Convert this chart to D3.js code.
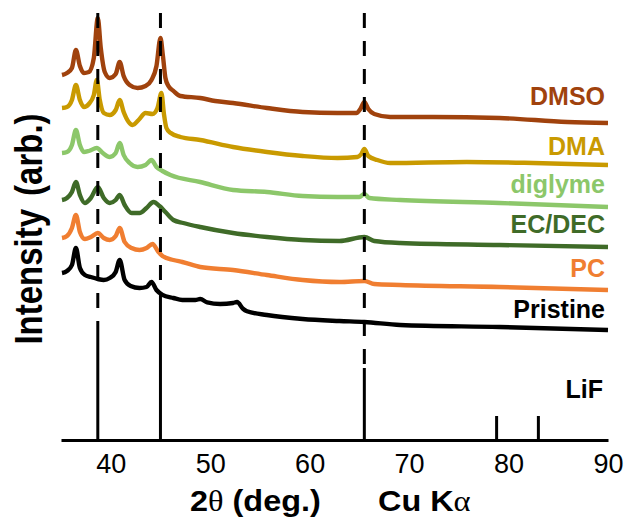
<!DOCTYPE html>
<html>
<head>
<meta charset="utf-8">
<script src="https://cdn.jsdelivr.net/npm/d3@7"></script>
<style>
  html, body { margin: 0; padding: 0; background: #fff; }
  svg { display: block; }
</style>
</head>
<body>
<svg id="chart" width="626" height="522"></svg>
<script>
// ---------------- DATA ----------------
const seriesNames = ["DMSO", "DMA", "diglyme", "EC/DEC", "PC", "Pristine"];
const seriesColors = ["#A0420D", "#C99A00", "#8CC76A", "#3F6B28", "#F07E31", "#000000"];

const dmsoTheta = [35.1,35.6,36.1,36.5,36.9,37.3,37.8,38.3,38.7,39.0,39.4,39.9,40.5,40.9,41.3,41.9,42.7,43.5,44.1,44.6,45.0,45.25,45.5,45.8,46.3,47.0,49.0,50.5,52.3,55.7,59.3,62.8,64.7,65.1,65.5,65.9,66.5,68.1,72.4,79.1,85.9,90.0];
const dmsoValues = [91.25,91.75,93,97.5,93.5,91.75,92,95.5,105.5,98,92,90.5,91.5,94.5,91,88.75,88,88.5,90,93.5,100.5,96,90.5,88.5,87.3,86,85.5,84.75,84.25,83,82,81.75,81.75,82.75,84.5,82.75,81.5,80.75,80.75,80.5,79.5,79.25];

const dmaTheta = [35.1,35.6,36.1,36.5,36.9,37.3,37.8,38.3,38.6,38.9,39.3,39.9,40.5,40.9,41.3,41.8,42.2,42.8,43.5,44.2,44.7,45.1,45.35,45.6,46.0,47.0,49.0,52.3,55.7,59.3,62.8,64.8,65.2,65.5,65.9,66.8,68.1,75.8,82.5,90.0];
const dmaValues = [83,83.25,85,88.75,85,83.25,84,86.25,90,85,81.75,81.25,82.5,85,82,79.5,78.75,80,81.75,81.5,83,86.75,81.5,78,76.8,75.75,75,73.25,72,71,70.5,70.75,71.5,72.75,71,70,69.25,69.5,69.25,68.75];

const diglymeTheta = [35.1,35.6,36.1,36.5,36.9,37.3,37.8,38.6,39.2,39.9,40.5,40.9,41.3,41.9,42.7,43.5,44.1,44.6,45.2,46.0,49.0,52.3,55.7,59.3,62.8,65.0,65.5,66.0,69.1,79.1,90.0];
const diglymeValues = [71.75,72,73.75,77.5,73.75,72,72.25,73,71.75,70.75,71.75,74.25,71.25,69.25,68.25,68.75,70,68.25,67.25,66.25,64.5,62.5,62,61,60.75,60.75,61.5,60.5,60,59.25,58.25];

const ecdecTheta = [35.1,35.6,36.1,36.5,36.9,37.4,38.0,38.7,39.3,39.9,40.5,40.9,41.4,42.1,42.9,43.6,44.3,44.9,45.5,46.3,47.3,49.0,52.3,55.7,59.3,63.0,65.5,66.5,69.1,79.1,90.0];
const ecdecValues = [60,60.5,62,64.5,61.25,59.25,60.5,63.25,60.5,59.25,60,61.25,58.75,56.75,56.75,58,59.5,58.5,57,55,54.25,53.25,51.75,50.75,50,49.75,50.75,49.75,49.25,48.75,48.25];

const pcTheta = [35.1,35.6,36.1,36.5,36.9,37.4,38.0,38.7,39.3,39.9,40.5,40.9,41.4,42.1,42.9,43.6,44.2,44.8,45.2,46.3,47.2,49.0,52.3,55.7,59.3,63.0,65.5,66.5,69.1,79.1,90.0];
const pcValues = [50.5,51,53,56.25,52,50.25,50.75,51.75,50.5,50,51,53,49.5,48,47.5,48,49,47,46,45,44.5,43.25,42.5,41.25,40,39.5,39.75,39,38.75,38.25,37.5];

const pristineTheta = [35.1,35.6,36.1,36.5,36.9,37.4,38.0,38.7,39.3,39.9,40.5,40.9,41.4,42.0,42.9,43.6,44.1,44.6,45.2,46.3,47.2,48.5,49.0,49.7,51.0,52.3,52.7,53.3,53.7,55.7,59.3,63.0,65.5,69.1,79.1,90.0];
const pristineValues = [41.75,42.25,43.75,48,43,41.25,40.75,40.25,40,40.5,42,45,40,38.5,38,38.25,39.5,37.5,36.3,35.5,35,35,35.25,34.4,34,34.25,34.5,32.8,32.2,31.25,30.25,29.75,29.5,28.75,28.25,27.5];

// LiF reference pattern (stick positions and heights, arb.)
const lifTheta = [38.7, 45.0, 65.5, 78.8, 83.0];
const lifIntensity = [27.75, 34.25, 18, 6, 6];
// reference (dashed) guide lines at these LiF peaks, up to this intensity
const guideTheta = [38.7, 45.0, 65.5];
const guideTop = 106.75;

const xTicks = [40, 50, 60, 70, 80, 90];
const xDomain = [35, 90];
const yDomain = [0, 110];

// ---------------- LAYOUT ----------------
const svg = d3.select("#chart");
const x = d3.scaleLinear().domain(xDomain).range([61, 608]);
const y = d3.scaleLinear().domain(yDomain).range([440, 0]);

const thetas = [dmsoTheta, dmaTheta, diglymeTheta, ecdecTheta, pcTheta, pristineTheta];
const values = [dmsoValues, dmaValues, diglymeValues, ecdecValues, pcValues, pristineValues];
const labelBaselines = [105, 155, 193, 233, 277, 318];

const line = d3.line().x(d => x(d[0])).y(d => y(d[1])).curve(d3.curveMonotoneX);

// traces (bottom first)
for (let i = seriesNames.length - 1; i >= 0; i--) {
  const pts = thetas[i].map((t, j) => [t, values[i][j]]);
  svg.append("path")
    .datum(pts)
    .attr("fill", "none")
    .attr("stroke", seriesColors[i])
    .attr("stroke-width", 4.4)
    .attr("stroke-linejoin", "round")
    .attr("stroke-linecap", "butt")
    .attr("d", line);
}

// LiF sticks
const lif = lifTheta.map((t, i) => ({ t, h: lifIntensity[i] }));
svg.append("g").selectAll("line")
  .data(lif)
  .join("line")
  .attr("x1", d => x(d.t)).attr("x2", d => x(d.t))
  .attr("y1", y(0)).attr("y2", d => y(d.h))
  .attr("stroke", "#000").attr("stroke-width", 3);

// dashed guide lines
svg.append("g").selectAll("line")
  .data(guideTheta)
  .join("line")
  .attr("x1", d => x(d)).attr("x2", d => x(d))
  .attr("y1", y(guideTop))
  .attr("y2", d => y(lif.find(l => l.t === d).h))
  .attr("stroke", "#000").attr("stroke-width", 3)
  .attr("stroke-dasharray", "15,13");

// x axis
const xAxis = d3.axisBottom(x).tickValues(xTicks).tickSize(0).tickSizeOuter(0).tickPadding(14);
const gx = svg.append("g").attr("transform", `translate(0,${y(0)})`).call(xAxis);
gx.select(".domain").attr("stroke", "#000").attr("stroke-width", 3);
gx.selectAll(".tick text")
  .attr("font-family", "Liberation Sans, Arial, sans-serif")
  .attr("font-size", 27)
  .attr("fill", "#000");

// series labels
seriesNames.forEach((name, i) => {
  svg.append("text")
    .attr("x", 605).attr("y", labelBaselines[i])
    .attr("text-anchor", "end")
    .attr("font-family", "Liberation Sans, Arial, sans-serif")
    .attr("font-weight", "bold")
    .attr("font-size", 25)
    .attr("fill", seriesColors[i])
    .text(name);
});
svg.append("text")
  .attr("x", 603).attr("y", 398)
  .attr("text-anchor", "end")
  .attr("font-family", "Liberation Sans, Arial, sans-serif")
  .attr("font-weight", "bold")
  .attr("font-size", 25)
  .attr("fill", "#000")
  .text("LiF");

// x title
const xt1 = svg.append("text")
  .attr("transform", "translate(190,511) scale(1.08,1)")
  .attr("font-family", "Liberation Sans, Arial, sans-serif")
  .attr("font-weight", "bold")
  .attr("font-size", 30)
  .attr("fill", "#000");
xt1.append("tspan").text("2");
xt1.append("tspan").attr("font-family", "Liberation Serif, Times New Roman, serif").attr("font-weight", "normal").text("θ");
xt1.append("tspan").text(" (deg.)");

const xt2 = svg.append("text")
  .attr("transform", "translate(378,511) scale(1.08,1)")
  .attr("font-family", "Liberation Sans, Arial, sans-serif")
  .attr("font-weight", "bold")
  .attr("font-size", 30)
  .attr("fill", "#000");
xt2.append("tspan").text("Cu K");
xt2.append("tspan").attr("font-family", "Liberation Serif, Times New Roman, serif").attr("font-weight", "normal").text("α");

// y title
const yt = svg.append("text")
  .attr("transform", "translate(42,229) scale(1.15,1) rotate(-90)")
  .attr("text-anchor", "middle")
  .attr("font-family", "Liberation Sans, Arial, sans-serif")
  .attr("font-weight", "bold")
  .attr("font-size", 33)
  .attr("fill", "#000");
yt.append("tspan").text("Intensity");
yt.append("tspan").attr("dx", 13).text("(arb.)");
</script>
</body>
</html>
